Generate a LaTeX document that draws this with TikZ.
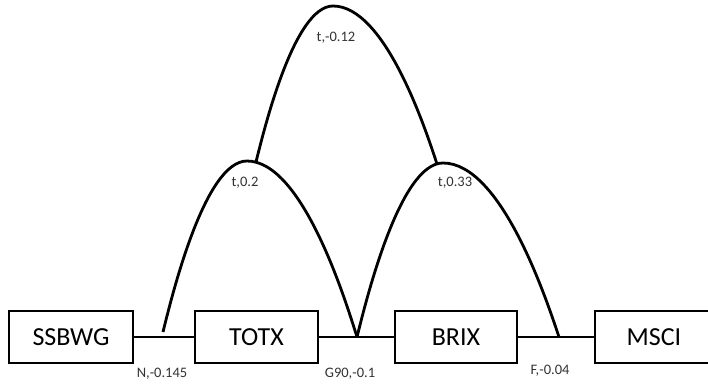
\documentclass[tikz,border=0pt]{standalone}
\usepackage{fontspec}
\setmainfont{Carlito}
\begin{document}
\begin{tikzpicture}[x=1pt,y=-1pt,
  box/.style={draw, line width=2.4pt, minimum height=52pt, inner sep=0pt,
    font=\fontsize{26}{26}\selectfont},
  hump/.style={line width=2.8pt},
  link/.style={line width=1.5pt},
  lbl/.style={font=\fontsize{14.5}{14.5}\selectfont, text=black!80, inner sep=0pt}]
\useasboundingbox (0,0) rectangle (708,385);

% boxes
\node[box, minimum width=124pt] (ssbwg) at (71,337)   {SSBWG};
\node[box, minimum width=123pt] (totx)  at (256.5,337) {TOTX};
\node[box, minimum width=122pt] (brix)  at (456,337)  {BRIX};
\node[box, minimum width=118pt] (msci)  at (654,337)  {MSCI};

% connecting lines
\draw[link] (ssbwg.east) -- (totx.west);
\draw[link] (totx.east) -- (brix.west);
\draw[link] (brix.east) -- (msci.west);

% junction points and hump peaks
\coordinate (nfoot) at (163,332);
\coordinate (g)     at (357,337);
\coordinate (f)     at (559,337);
\coordinate (pl)    at (247,161);
\coordinate (pr)    at (443,163);
\coordinate (ul)    at (256,162);
\coordinate (ur)    at (437,164);
\coordinate (pt)    at (333,6);

% humps
\draw[hump] (nfoot) parabola bend (pl) (g);
\draw[hump] (g) parabola bend (pr) (f);
\draw[hump] (ul) parabola bend (pt) (ur);

% labels
\node[lbl] (lt)  at (336,38)  {t,-0.12};
\node[lbl] (l02) at (245,183) {t,0.2};
\node[lbl] (l33) at (455,183) {t,0.33};
\node[lbl] (ln)  at (162,374) {N,-0.145};
\node[lbl] (lg)  at (350,374) {G90,-0.1};
\node[lbl] (lf)  at (550,371) {F,-0.04};
\end{tikzpicture}
\end{document}
